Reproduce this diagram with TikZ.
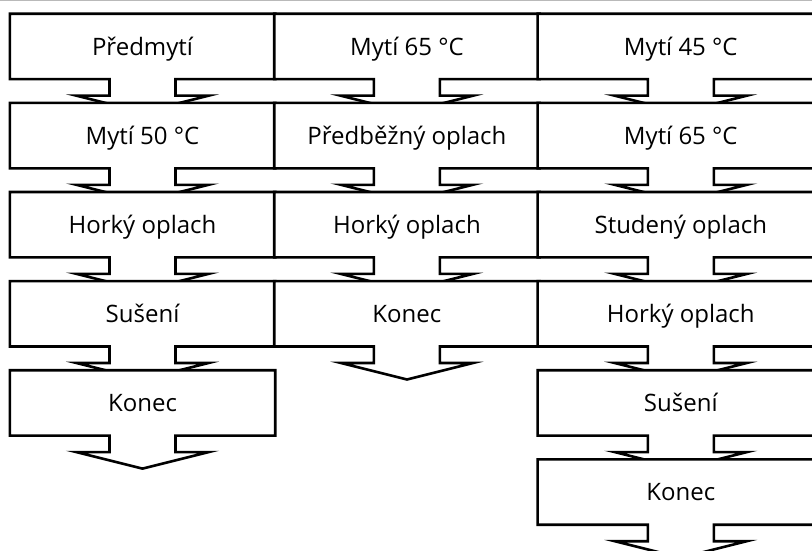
\documentclass[tikz,border=0pt]{standalone}
\usepackage{fontspec}
\setmainfont{Open Sans}
\usepackage{tikz}
\usetikzlibrary{positioning, backgrounds}
\tikzstyle{stepbox} = [rectangle, minimum width=265pt, minimum height=65pt, text centered, text height=17.1pt, text depth=0pt, font=\fontsize{24}{29}\selectfont]
\tikzstyle{widebox} = [stepbox, minimum width=286pt]
\tikzstyle{outline} = [draw=black, fill=white, line width=2.6pt]
\newcommand{\steparrow}[1]{%
  \path[outline] (#1.north west) -- (#1.north east) -- (#1.south east)
    -- ([xshift=33pt]#1.south) -- ++(0,-16.5pt) -- ++(33pt,0)
    -- ([yshift=-33pt]#1.south)
    -- ([xshift=-66pt,yshift=-16.5pt]#1.south) -- ++(33pt,0) -- ++(0,16.5pt)
    -- (#1.south west) -- cycle;}

\begin{document}
\begin{tikzpicture}[node distance=23.7pt]
      \useasboundingbox (0,0) rectangle (812pt,-551pt);
      \clip (0,0) rectangle (812pt,-551pt);
      \draw [gray!55, line width=1pt] (0,-0.5pt) -- (812pt,-0.5pt);
      % first column
      \node (predmyti) [stepbox] at (142.5pt,-46.5pt) {Předmytí};
      \node (myti50) [stepbox, below=of predmyti] {Mytí 50 °C};
      \node (horky1) [stepbox, below=of myti50] {Horký oplach};
      \node (suseni1) [stepbox, below=of horky1] {Sušení};
      \node (konec1) [stepbox, below=of suseni1] {Konec};
      % second column
      \node (myti65a) [stepbox, right=-1pt of predmyti] {Mytí 65 °C};
      \node (predoplach) [stepbox, below=of myti65a] {Předběžný oplach};
      \node (horky2) [stepbox, below=of predoplach] {Horký oplach};
      \node (konec2) [stepbox, below=of horky2] {Konec};
      % third column
      \node (myti45) [widebox, right=-2pt of myti65a] {Mytí 45 °C};
      \node (myti65b) [widebox, below=of myti45] {Mytí 65 °C};
      \node (studeny) [widebox, below=of myti65b] {Studený oplach};
      \node (horky3) [widebox, below=of studeny] {Horký oplach};
      \node (suseni3) [widebox, below=of horky3] {Sušení};
      \node (konec3) [widebox, below=of suseni3] {Konec};
      % box outlines with arrows, top to bottom
      \begin{scope}[on background layer]
        \clip (0,0) rectangle (812pt,-551pt);
        \steparrow{predmyti} \steparrow{myti50} \steparrow{horky1}
        \steparrow{suseni1} \steparrow{konec1}
        \steparrow{myti65a} \steparrow{predoplach} \steparrow{horky2}
        \steparrow{konec2}
        \steparrow{myti45} \steparrow{myti65b} \steparrow{studeny}
        \steparrow{horky3} \steparrow{suseni3} \steparrow{konec3}
      \end{scope}
    \end{tikzpicture}
\end{document}
